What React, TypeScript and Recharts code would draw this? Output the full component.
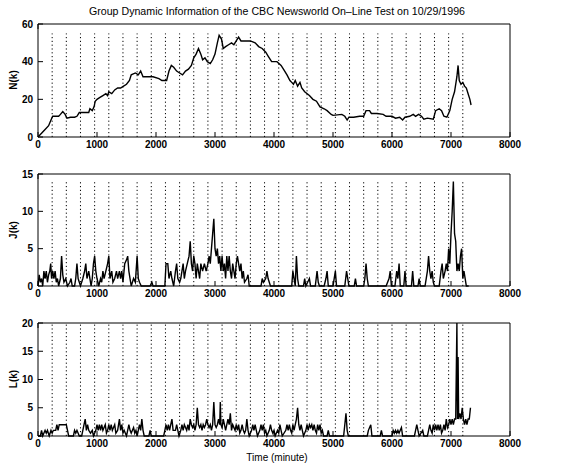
import { LineChart, Line, XAxis, YAxis, ReferenceLine } from "recharts";

// session start marks (dotted lines), minutes
const sessionStarts = [
  240, 480, 720, 960, 1200, 1440, 1680, 1920, 2160, 2400, 2640, 2880, 3120, 3360, 3600,
  3840, 4080, 4320, 4560, 4800, 5040, 5280, 5520, 5760, 6000, 6240, 6480, 6720, 6960, 7200,
];

const xTicks = [0, 1000, 2000, 3000, 4000, 5000, 6000, 7000, 8000];

// N(k): group size
const nTime = [
  0, 60, 120, 180, 220, 250, 300, 350, 380, 420, 460, 490, 550, 620, 660, 700, 800, 860, 880, 920,
  950, 970, 1000, 1050, 1100, 1150, 1180, 1200, 1250, 1300, 1350, 1400, 1450, 1500, 1550, 1580, 1650, 1700, 1740, 1780,
  1850, 1950, 2050, 2100, 2180, 2220, 2260, 2300, 2350, 2400, 2450, 2500, 2550, 2600, 2640, 2680, 2720, 2760, 2790, 2830,
  2870, 2920, 2960, 3000, 3040, 3070, 3110, 3140, 3180, 3230, 3280, 3320, 3360, 3400, 3440, 3500, 3600, 3680, 3740, 3800,
  3860, 3900, 3960, 4050, 4120, 4160, 4220, 4270, 4300, 4330, 4360, 4400, 4440, 4470, 4520, 4600, 4660, 4720, 4780, 4850,
  4900, 4970, 5000, 5150, 5200, 5240, 5270, 5350, 5450, 5520, 5560, 5620, 5650, 5750, 5850, 5900, 6000, 6060, 6130, 6180,
  6220, 6300, 6360, 6400, 6450, 6500, 6540, 6600, 6700, 6740, 6800, 6840, 6880, 6930, 6980, 7020, 7060, 7100, 7120, 7140,
  7170, 7200, 7230, 7260, 7290, 7320, 7340,
];
const nVal = [
  0, 2, 4, 6, 9, 11, 11, 11, 12, 13.5, 12, 10, 10.5, 10.5, 11, 13, 13, 13, 15, 14,
  16, 19, 20, 21, 22, 23, 22, 24, 23, 25, 26, 26, 27, 28, 30, 33, 34, 33, 35, 32,
  32, 32, 31, 30, 30, 35, 38, 37, 35, 34, 33, 35, 36, 38, 42, 44, 47, 44, 41, 42,
  40, 39, 41, 44, 50, 54, 52, 47, 48, 49, 50, 49, 51, 53, 51, 51, 51, 50, 48, 47,
  45, 43, 40, 40, 38, 36, 33, 30, 29, 28, 30, 27, 29, 26, 24, 22, 20, 19, 16, 15,
  14, 12, 11.5, 12, 11, 9, 10.5, 10.5, 11, 11, 14, 14, 12.5, 12.5, 12, 11, 11, 10, 10.5, 9,
  10.5, 11, 12, 11, 12, 11, 9.5, 10, 9.5, 14, 15, 14, 11, 10.5, 14, 20, 24, 32, 38, 30,
  28, 29, 27, 26, 23, 20, 17,
];

// J(k): joins per interval
const jTime = [
  0, 20, 40, 60, 80, 100, 120, 140, 160, 180, 200, 215, 230, 250, 270, 290, 310, 330, 350, 380,
  400, 420, 440, 470, 500, 540, 560, 580, 620, 640, 660, 680, 700, 720, 760, 790, 810, 830, 860, 880,
  900, 920, 940, 960, 980, 1000, 1030, 1060, 1080, 1100, 1120, 1150, 1180, 1200, 1220, 1250, 1270, 1300, 1330, 1350,
  1380, 1400, 1420, 1440, 1470, 1500, 1520, 1540, 1560, 1580, 1620, 1650, 1680, 1700, 1720, 1750, 1900, 1930, 1950, 2150,
  2170, 2200, 2220, 2250, 2270, 2300, 2330, 2350, 2370, 2400, 2420, 2440, 2460, 2480, 2500, 2530, 2560, 2580, 2600, 2620,
  2640, 2660, 2680, 2700, 2720, 2740, 2760, 2790, 2820, 2850, 2880, 2900, 2920, 2940, 2960, 2980, 3000, 3020, 3040, 3060,
  3080, 3100, 3120, 3140, 3160, 3180, 3200, 3220, 3240, 3260, 3280, 3300, 3320, 3340, 3360, 3380, 3400, 3420, 3440, 3460,
  3480, 3500, 3540, 3560, 3580, 3780, 3800, 3820, 3860, 3880, 3900, 3920, 3940, 4300, 4320, 4340, 4360, 4380, 4400, 4420,
  4500, 4520, 4540, 4600, 4620, 4700, 4730, 4750, 4770, 4850, 4880, 4900, 4920, 5000, 5020, 5040, 5060, 5200, 5230, 5250,
  5270, 5360, 5380, 5400, 5520, 5540, 5560, 5580, 5600, 5900, 5950, 5970, 5990, 6050, 6080, 6100, 6120, 6140, 6200, 6220,
  6240, 6330, 6350, 6370, 6440, 6460, 6480, 6560, 6580, 6600, 6620, 6640, 6660, 6680, 6700, 6720, 6800, 6830, 6850, 6870,
  6900, 6920, 6940, 6960, 6980, 7000, 7020, 7040, 7060, 7080, 7100, 7120, 7140, 7160, 7180, 7200, 7220, 7240, 7260, 7300,
];
const jVal = [
  0, 1.5, 0.5, 1, 0, 2, 1, 2, 0.5, 1.5, 2, 3, 1, 2, 1, 2, 0.5, 1, 0, 1,
  4, 1.5, 0.5, 1, 0, 0.5, 1, 0, 0, 1, 3, 1, 0.5, 0, 1, 2, 3, 1, 2, 1,
  0, 1, 3, 4, 2, 1, 0, 1, 0.5, 2, 1, 2, 3, 4, 1, 2, 0.5, 1, 2, 1,
  2, 1, 2, 0.5, 3, 3.5, 4, 2, 1, 0, 1, 0.5, 4, 1, 0.5, 0, 0, 0.5, 0, 0,
  3, 3, 1, 2, 1, 0, 2, 3, 1, 0.5, 1, 2, 3, 1, 2, 3, 4, 6, 3, 2,
  4, 3, 1, 3, 2, 1, 3, 2, 3, 2, 3, 4, 3, 5, 7, 9, 5, 4, 5, 3,
  4, 2, 4, 2, 3, 1, 4, 2, 4, 2, 1, 3, 2, 1, 3, 4, 3, 2, 3, 1,
  2, 0.5, 1, 1.5, 0, 0, 1, 0.5, 1, 2, 1, 0.5, 0, 0, 2, 1, 0, 4, 1, 0,
  0, 1, 0, 1, 0, 0, 2, 0.5, 0, 0, 1, 2, 0, 0, 1, 2, 0, 0, 2, 1,
  0, 0, 1, 0, 0, 1, 3, 1, 0, 0, 1, 2, 0, 0, 2, 1, 3, 0, 0, 2,
  0, 0, 2, 0, 0, 1, 0, 0, 1, 2, 4, 2, 1, 2, 0.5, 0, 0, 2, 3, 1,
  2, 3, 2, 5, 3, 7, 10, 14, 7, 6, 2, 3, 2, 4, 5, 1, 2, 1, 0, 0,
];

// L(k): leaves per interval
const lTime = [
  0, 40, 60, 80, 120, 140, 160, 190, 220, 240, 260, 300, 320, 340, 360, 400, 440, 480, 500, 520,
  560, 600, 620, 640, 660, 700, 740, 760, 780, 800, 820, 840, 860, 890, 920, 940, 980, 1000, 1020, 1040,
  1060, 1080, 1100, 1120, 1140, 1160, 1180, 1200, 1220, 1240, 1260, 1280, 1300, 1320, 1350, 1380, 1400, 1420, 1440, 1460,
  1500, 1520, 1540, 1560, 1580, 1600, 1620, 1640, 1660, 1680, 1700, 1720, 1740, 1760, 1780, 1800, 1880, 1900, 1920, 2130,
  2150, 2170, 2190, 2210, 2230, 2250, 2270, 2290, 2330, 2350, 2370, 2390, 2420, 2440, 2460, 2480, 2500, 2520, 2540, 2560,
  2580, 2600, 2620, 2640, 2660, 2680, 2700, 2720, 2740, 2760, 2780, 2800, 2820, 2840, 2860, 2880, 2900, 2920, 2940, 2960,
  2980, 3000, 3020, 3040, 3060, 3080, 3090, 3100, 3120, 3140, 3160, 3180, 3200, 3220, 3240, 3260, 3280, 3300, 3340, 3360,
  3380, 3400, 3420, 3440, 3460, 3480, 3500, 3520, 3540, 3560, 3580, 3620, 3640, 3660, 3680, 3700, 3720, 3760, 3780, 3800,
  3820, 3840, 3860, 3880, 3920, 3940, 3960, 3980, 4000, 4020, 4060, 4080, 4100, 4120, 4140, 4200, 4220, 4240, 4260, 4280,
  4300, 4320, 4340, 4360, 4380, 4400, 4420, 4440, 4460, 4480, 4500, 4540, 4560, 4580, 4600, 4620, 4640, 4660, 4680, 4700,
  4720, 4740, 4760, 4780, 4800, 4820, 4840, 4900, 4920, 4940, 5180, 5200, 5220, 5240, 5260, 5580, 5600, 5640, 5660, 5800,
  5820, 5840, 6000, 6020, 6040, 6060, 6080, 6100, 6120, 6140, 6160, 6180, 6380, 6400, 6420, 6440, 6460, 6520, 6540, 6600,
  6620, 6640, 6660, 6680, 6700, 6720, 6740, 6760, 6780, 6800, 6820, 6840, 6860, 6880, 6900, 6920, 6940, 6960, 6980, 7000,
  7020, 7040, 7060, 7080, 7100, 7110, 7120, 7130, 7150, 7170, 7190, 7210, 7230, 7250, 7270, 7290, 7310, 7330,
];
const lVal = [
  0, 0, 1, 0, 1, 0.5, 1, 0, 1, 0.5, 1, 1, 2, 1, 2, 2, 2, 2, 1, 0,
  0, 0, 1, 0.5, 1, 0, 0, 1, 2, 3, 1, 2, 1, 0.5, 1, 0, 1, 2, 1, 2,
  1, 2, 1, 1.5, 2, 0.5, 1, 2, 1, 2, 1, 1.5, 2, 0.5, 1, 3, 1, 2, 0.5, 1,
  0, 1, 2, 1, 0.5, 1, 1.5, 0.5, 1, 0, 1, 2, 1, 3, 1, 0, 0, 1, 0, 0,
  1, 2, 1, 2, 1, 2, 3, 1, 1, 2, 1, 0, 1, 2, 1, 2, 1.5, 1, 2, 1,
  3, 2, 1.5, 2, 1, 2, 5, 2, 1.5, 2, 1, 2, 1.5, 2, 3, 2, 1.5, 2, 1, 2,
  6, 2, 1.5, 2, 3, 2, 6, 2, 1.5, 3, 2, 1, 2, 3, 2, 4, 1, 2, 1, 2,
  1, 2, 0.5, 1, 2, 1, 0.5, 1, 3, 1, 0, 1, 2, 1, 2, 1, 0, 1, 2, 1,
  2, 0.5, 1, 0, 1, 2, 1, 0.5, 1, 0, 1, 0.5, 2, 1, 0, 1, 2, 1, 2, 1,
  0.5, 2, 1, 2, 3, 5, 2, 1, 2, 1, 0, 1, 2, 1, 2, 1.5, 2, 1, 2, 1,
  0.5, 2, 1, 2, 0.5, 1, 0, 0, 1, 0, 0, 2, 4, 1, 0, 0, 1, 2, 0, 0,
  1, 0, 0, 1, 0.5, 1, 0.5, 1, 0.5, 1, 1.5, 0, 0, 1, 2, 1, 0, 1, 0, 0,
  1, 2, 1, 0.5, 2, 1, 2, 1, 2, 1, 2, 0.5, 1, 2, 1, 3, 1.5, 2, 3, 2,
  3, 2, 3, 3, 20, 3, 14, 3, 4, 3, 5, 3, 2, 3, 2, 3, 3, 5,
];

const toRows = (ts: number[], vs: number[]) => ts.map((t, i) => ({ t, v: vs[i] }));

const FONT = "'Liberation Sans', Arial, Helvetica, sans-serif";
const tickStyle = { fontSize: 10, fill: "#000", fontFamily: FONT, fontWeight: 700 };
const tickLineStyle = { stroke: "#000", strokeWidth: 1 };

interface PanelProps {
  top: number;
  height: number;
  data: { t: number; v: number }[];
  yMax: number;
  yTicks: number[];
  dotTop: number;
}

function Panel({ top, height, data, yMax, yTicks, dotTop }: PanelProps) {
  return (
    <div style={{ position: "absolute", left: 0, top }}>
      <LineChart width={574} height={height} data={data} margin={{ top: 23, right: 63, bottom: 0, left: 8 }}>
        <XAxis
          dataKey="t"
          type="number"
          domain={[0, 8000]}
          ticks={xTicks}
          interval={0}
          height={20}
          tickSize={-5}
          tickMargin={9}
          stroke="#000"
          tickLine={tickLineStyle}
          tick={tickStyle}
        />
        <XAxis
          xAxisId="top"
          orientation="top"
          type="number"
          domain={[0, 8000]}
          ticks={xTicks}
          interval={0}
          height={1}
          tickSize={-5}
          stroke="#000"
          tickLine={tickLineStyle}
          tickFormatter={() => ""}
        />
        <YAxis
          type="number"
          domain={[0, yMax]}
          ticks={yTicks}
          interval={0}
          width={30}
          tickSize={-5}
          tickMargin={10}
          stroke="#000"
          tickLine={tickLineStyle}
          tick={tickStyle}
        />
        <YAxis
          yAxisId="r"
          orientation="right"
          type="number"
          domain={[0, yMax]}
          ticks={yTicks}
          interval={0}
          width={1}
          tickSize={-5}
          stroke="#000"
          tickLine={tickLineStyle}
          tickFormatter={() => ""}
        />
        {sessionStarts.map(s => (
          <ReferenceLine
            key={s}
            segment={[{ x: s, y: 0 }, { x: s, y: dotTop }]}
            stroke="#000"
            strokeWidth={1}
            strokeDasharray="1.2 2.6"
          />
        ))}
        <Line
          type="linear"
          dataKey="v"
          stroke="#000"
          strokeWidth={1.4}
          dot={false}
          isAnimationActive={false}
        />
      </LineChart>
    </div>
  );
}

export default function App() {
  return (
    <div style={{ position: "absolute", left: 0, top: 0, width: 574, height: 468, background: "#fff" }}>
      <Panel top={0} height={157} data={toRows(nTime, nVal)} yMax={60} yTicks={[0, 20, 40, 60]} dotTop={55} />
      <Panel top={150} height={156} data={toRows(jTime, jVal)} yMax={15} yTicks={[0, 5, 10, 15]} dotTop={14} />
      <Panel top={299} height={157} data={toRows(lTime, lVal)} yMax={20} yTicks={[0, 5, 10, 15, 20]} dotTop={20} />
      <svg width={574} height={468} style={{ position: "absolute", left: 0, top: 0, pointerEvents: "none" }}>
        <text x={277} y={15} textAnchor="middle" fontSize={10} fontFamily={FONT} textLength={376} lengthAdjust="spacingAndGlyphs">
          Group Dynamic Information of the CBC Newsworld On–Line Test on 10/29/1996
        </text>
        <text transform="translate(17,80) rotate(-90)" textAnchor="middle" fontSize={10} fontFamily={FONT} fontWeight={700}>N(k)</text>
        <text transform="translate(17,230) rotate(-90)" textAnchor="middle" fontSize={10} fontFamily={FONT} fontWeight={700}>J(k)</text>
        <text transform="translate(17,379) rotate(-90)" textAnchor="middle" fontSize={10} fontFamily={FONT} fontWeight={700}>L(k)</text>
        <text x={277} y={461} textAnchor="middle" fontSize={10} fontFamily={FONT}>Time (minute)</text>
      </svg>
    </div>
  );
}
